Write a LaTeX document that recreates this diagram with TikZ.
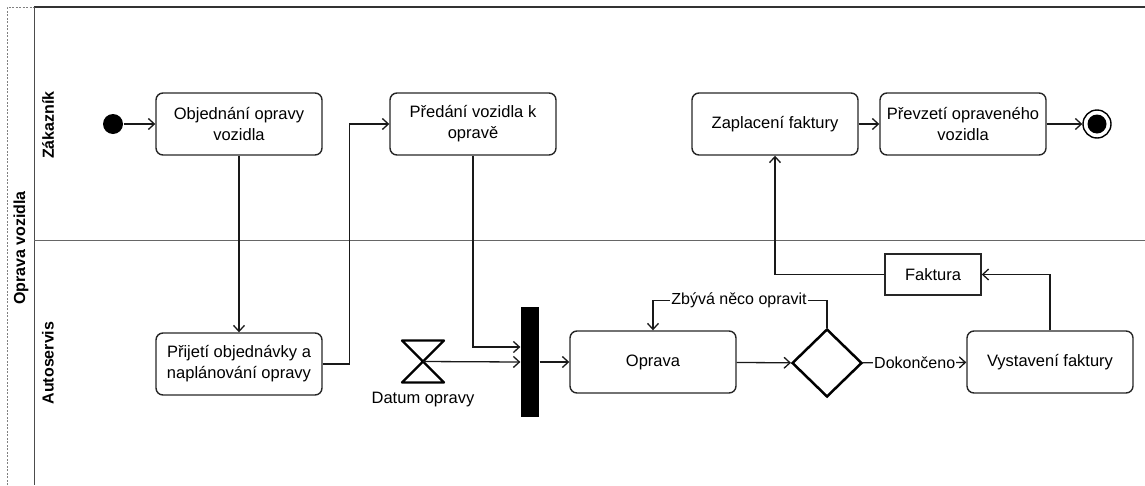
\documentclass[tikz,border=0pt]{standalone}
\usepackage{fontspec}
\setmainfont{Liberation Sans}
\usetikzlibrary{arrows.meta,shapes.geometric,calc}
\begin{document}
\begin{tikzpicture}[x=1pt,y=-1pt,
  line width=1.3pt,
  >={Straight Barb[length=6pt,width=11pt,line width=1.3pt]},
  act/.style={draw=black!85, line width=1.4pt, rounded corners=7pt, minimum width=166pt, minimum height=62pt, align=center, inner sep=2pt, font=\fontsize{16.5}{21}\selectfont},
  obj/.style={draw=black!85, line width=1.4pt, minimum width=96pt, minimum height=41pt, inner sep=2pt, font=\fontsize{16.5}{21}\selectfont},
  lbl/.style={fill=white, inner sep=1pt, font=\fontsize{16}{18}\selectfont},
  lane/.style={rotate=90, font=\bfseries\fontsize{16}{18}\selectfont},
  flow/.style={->, draw=black!90}
]
\useasboundingbox (0,0) rectangle (1145,485);
% pool and lanes
\draw[gray, line width=0.9pt, dash pattern=on 2pt off 1.5pt] (7,485) -- (7,7) -- (34,7);
\draw[black!80, line width=1.3pt] (34,7) -- (1145,7);
\draw[black!70, line width=1pt] (34,7) -- (34,485);
\draw[black!60, line width=1pt] (34,240) -- (1145,240);
\node[lane] (pool) at (21,248) {Oprava vozidla};
\node[lane] (l1) at (48,125) {Zákazník};
\node[lane] (l2) at (48,363) {Autoservis};
% nodes
\node[circle, fill=black, minimum size=20pt, inner sep=0] (start) at (113,124) {};
\node[act] (obj) at (239,124) {Objednání opravy\\vozidla};
\node[act] (pred) at (473,124) {Předání vozidla k\\opravě};
\node[act] (zap) at (775,124) {Zaplacení faktury};
\node[act] (prev) at (963,124) {Převzetí opraveného\\vozidla};
\node[circle, draw=black, line width=1.4pt, minimum size=28pt, inner sep=0] (endc) at (1097,124) {};
\fill[black] (endc) circle (9.5);
\node[act] (prij) at (239,364) {Přijetí objednávky a\\naplánování opravy};
\coordinate (hg) at (423,361.5);
\draw[line width=2.3pt, line join=round, shift={(hg)}] (-21,-21) -- (21,-21) -- (-21,21) -- (21,21) -- cycle;
\node[font=\fontsize{16.5}{18}\selectfont] (dl) at (423,400) {Datum opravy};
\node[fill=black, minimum width=18pt, minimum height=110pt, inner sep=0] (bar) at (530,362) {};
\node[act] (opr) at (653,362) {Oprava};
\node[diamond, draw=black, line width=2.5pt, aspect=1, minimum width=70pt, minimum height=68pt, inner sep=0] (dia) at (827,363) {};
\node[act] (vyst) at (1050,362) {Vystavení faktury};
\node[obj] (fak) at (933,274.5) {Faktura};
% connectors
\draw[flow] (start) -- (obj);
\draw[flow] (obj) -- (prij);
\draw[flow] (prij.east) -- ++(27,0) |- (pred.west);
\draw[flow] (pred.south) |- ($(bar.west)+(0,-15)$);
\draw[flow] (hg) -- (bar.west);
\draw[flow] (bar) -- (opr);
\draw[flow] (opr) -- (dia);
\draw[flow] (dia.north) -- ++(0,-27) -| node[lbl, pos=0.253] {Zbývá něco opravit} (opr.north);
\draw[flow] (dia) -- node[lbl] {Dokončeno} (vyst);
\draw[flow] (vyst.north) |- (fak.east);
\draw[flow] (fak.west) -| (zap.south);
\draw[flow] (zap) -- (prev);
\draw[flow] (prev) -- (endc);
\end{tikzpicture}
\end{document}
